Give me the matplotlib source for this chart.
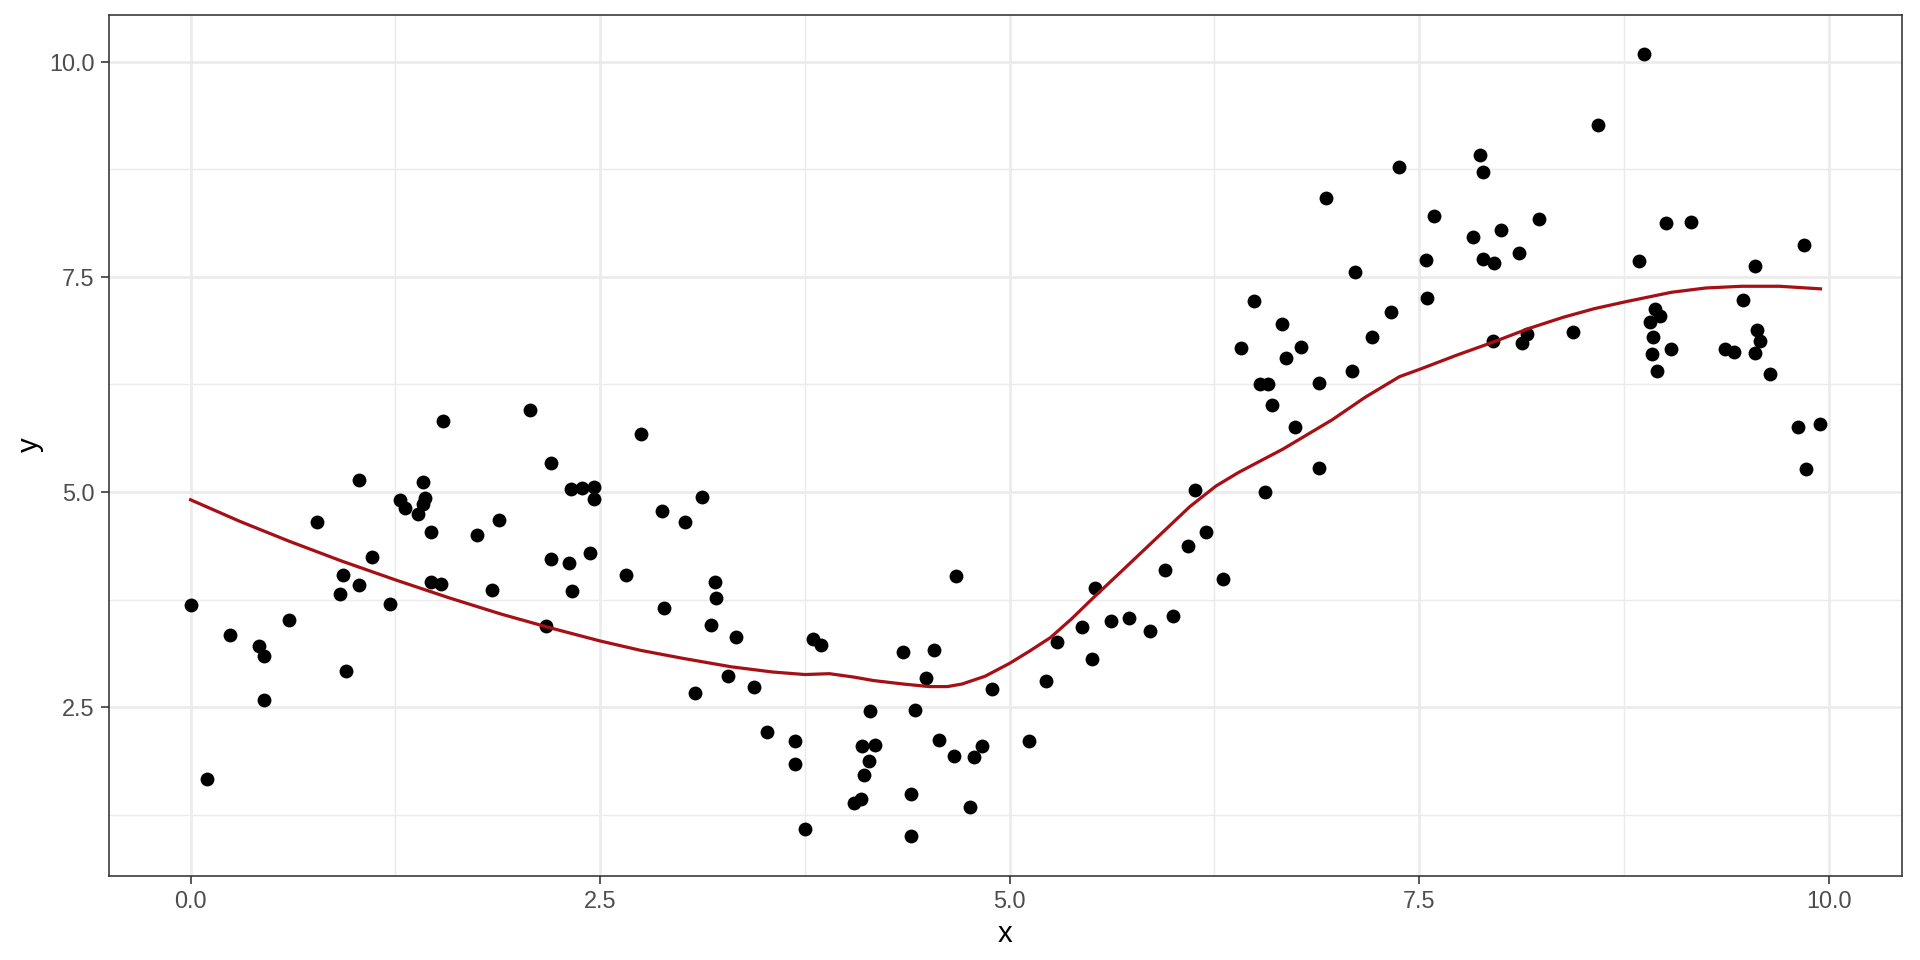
import matplotlib.pyplot as plt
import numpy as np

# scatter points
x = [0.00, 0.10, 0.24, 0.42, 0.45, 0.45, 0.60, 0.77, 0.91, 0.93,
     0.95, 1.03, 1.03, 1.11, 1.22, 1.28, 1.31, 1.39, 1.42, 1.43,
     1.42, 1.47, 1.47, 1.53, 1.54, 1.75, 1.84, 1.88, 2.07, 2.17,
     2.20, 2.20, 2.31, 2.32, 2.33, 2.39, 2.44, 2.46, 2.46, 2.66,
     2.75, 2.88, 2.89, 3.02, 3.08, 3.12, 3.18, 3.20, 3.21, 3.28,
     3.33, 3.44, 3.52, 3.69, 3.69, 3.75, 3.80, 3.85, 4.05, 4.09,
     4.10, 4.11, 4.14, 4.15, 4.18, 4.35, 4.40, 4.40, 4.42, 4.49,
     4.54, 4.57, 4.66, 4.67, 4.76, 4.78, 4.83, 4.89, 5.12, 5.22,
     5.29, 5.44, 5.50, 5.52, 5.62, 5.73, 5.86, 5.95, 6.00, 6.09,
     6.13, 6.20, 6.30, 6.41, 6.49, 6.53, 6.56, 6.58, 6.60, 6.66,
     6.69, 6.74, 6.78, 6.89, 6.89, 6.93, 7.09, 7.11, 7.21, 7.33,
     7.38, 7.54, 7.55, 7.59, 7.83, 7.87, 7.89, 7.89, 7.95, 7.96,
     8.00, 8.11, 8.13, 8.16, 8.23, 8.44, 8.59, 8.84, 8.87, 8.91,
     8.92, 8.93, 8.94, 8.95, 8.97, 9.01, 9.04, 9.16, 9.37, 9.42,
     9.48, 9.55, 9.55, 9.56, 9.58, 9.64, 9.81, 9.85, 9.86, 9.95]
y = [3.69, 1.67, 3.34, 3.21, 3.10, 2.58, 3.51, 4.65, 3.82, 4.04,
     2.92, 3.92, 5.14, 4.25, 3.70, 4.91, 4.81, 4.75, 5.12, 4.93,
     4.86, 4.53, 3.96, 3.93, 5.82, 4.50, 3.86, 4.67, 5.95, 3.44,
     5.34, 4.22, 4.17, 5.04, 3.85, 5.05, 4.29, 5.06, 4.92, 4.04,
     5.67, 4.78, 3.65, 4.65, 2.66, 4.94, 3.46, 3.96, 3.77, 2.86,
     3.32, 2.74, 2.21, 2.11, 1.84, 1.09, 3.29, 3.22, 1.39, 1.43,
     2.05, 1.71, 1.87, 2.46, 2.06, 3.14, 1.49, 1.00, 2.47, 2.84,
     3.17, 2.12, 1.93, 4.03, 1.34, 1.92, 2.05, 2.71, 2.11, 2.80,
     3.26, 3.43, 3.06, 3.88, 3.50, 3.54, 3.38, 4.10, 3.56, 4.37,
     5.02, 4.53, 3.99, 6.67, 7.22, 6.26, 5.00, 6.26, 6.01, 6.95,
     6.56, 5.75, 6.68, 6.27, 5.28, 8.42, 6.41, 7.56, 6.80, 7.09,
     8.78, 7.70, 7.25, 8.21, 7.96, 8.92, 8.72, 7.71, 6.75, 7.66,
     8.04, 7.78, 6.73, 6.84, 8.17, 6.86, 9.26, 7.68, 10.09, 6.98,
     6.60, 6.80, 7.13, 6.40, 7.05, 8.12, 6.66, 8.14, 6.66, 6.63,
     7.23, 7.62, 6.62, 6.88, 6.76, 6.37, 5.75, 7.87, 5.27, 5.79]

# smoothed curve
smooth_x = [0.00, 0.30, 0.60, 0.92, 1.25, 1.58, 1.90, 2.20, 2.50, 2.75,
            3.00, 3.30, 3.55, 3.75, 3.90, 4.05, 4.17, 4.35, 4.51, 4.62,
            4.71, 4.85, 5.00, 5.12, 5.25, 5.38, 5.51, 5.65, 5.80, 5.95,
            6.10, 6.26, 6.40, 6.51, 6.67, 6.82, 6.97, 7.17, 7.38, 7.51,
            7.73, 7.95, 8.17, 8.38, 8.57, 8.76, 9.04, 9.25, 9.47, 9.70,
            9.95]
smooth_y = [4.91, 4.66, 4.43, 4.20, 3.98, 3.77, 3.58, 3.42, 3.27, 3.16,
            3.07, 2.97, 2.91, 2.88, 2.89, 2.85, 2.81, 2.77, 2.74, 2.74,
            2.77, 2.86, 3.01, 3.15, 3.31, 3.53, 3.77, 4.02, 4.29, 4.56,
            4.83, 5.07, 5.23, 5.34, 5.50, 5.67, 5.84, 6.10, 6.34, 6.43,
            6.59, 6.74, 6.90, 7.03, 7.13, 7.21, 7.32, 7.37, 7.39, 7.39,
            7.36]

plt.rcParams['font.family'] = ['Liberation Sans', 'DejaVu Sans']

fig = plt.figure(figsize=(10, 5), dpi=192)
ax = fig.add_axes([0.0568, 0.088, 0.9338, 0.8967])

ax.scatter(x, y, s=27, color='black', linewidths=0, zorder=3)
ax.plot(smooth_x, smooth_y, color='#A50F15', lw=1.2, zorder=4,
        solid_joinstyle='round')

# ggplot style 5% expansion
xr = max(x) - min(x)
yr = max(y) - min(y)
ax.set_xlim(min(x) - 0.05 * xr, max(x) + 0.05 * xr)
ax.set_ylim(min(y) - 0.05 * yr, max(y) + 0.05 * yr)

ticks = [0.0, 2.5, 5.0, 7.5, 10.0]
minor = [1.25, 3.75, 6.25, 8.75]
ax.set_xticks(ticks)
ax.set_xticklabels([f'{t:.1f}' for t in ticks])
ax.set_yticks(ticks[1:])
ax.set_yticklabels([f'{t:.1f}' for t in ticks[1:]])
ax.set_xticks(minor, minor=True)
ax.set_yticks(minor, minor=True)

ax.grid(which='major', color='#EBEBEB', lw=1.0)
ax.grid(which='minor', color='#EBEBEB', lw=0.55)
ax.set_axisbelow(True)

for sp in ax.spines.values():
    sp.set_color('#333333')
    sp.set_linewidth(0.6)

ax.tick_params(which='major', length=2.9, width=0.6, color='#333333',
               labelsize=8.8, labelcolor='#4D4D4D', pad=2.5)
ax.tick_params(which='minor', length=0)

ax.set_xlabel('x', fontsize=11, labelpad=2.5)
ax.set_ylabel('y', fontsize=11, labelpad=2)

fig.savefig('out.png', dpi=192)
